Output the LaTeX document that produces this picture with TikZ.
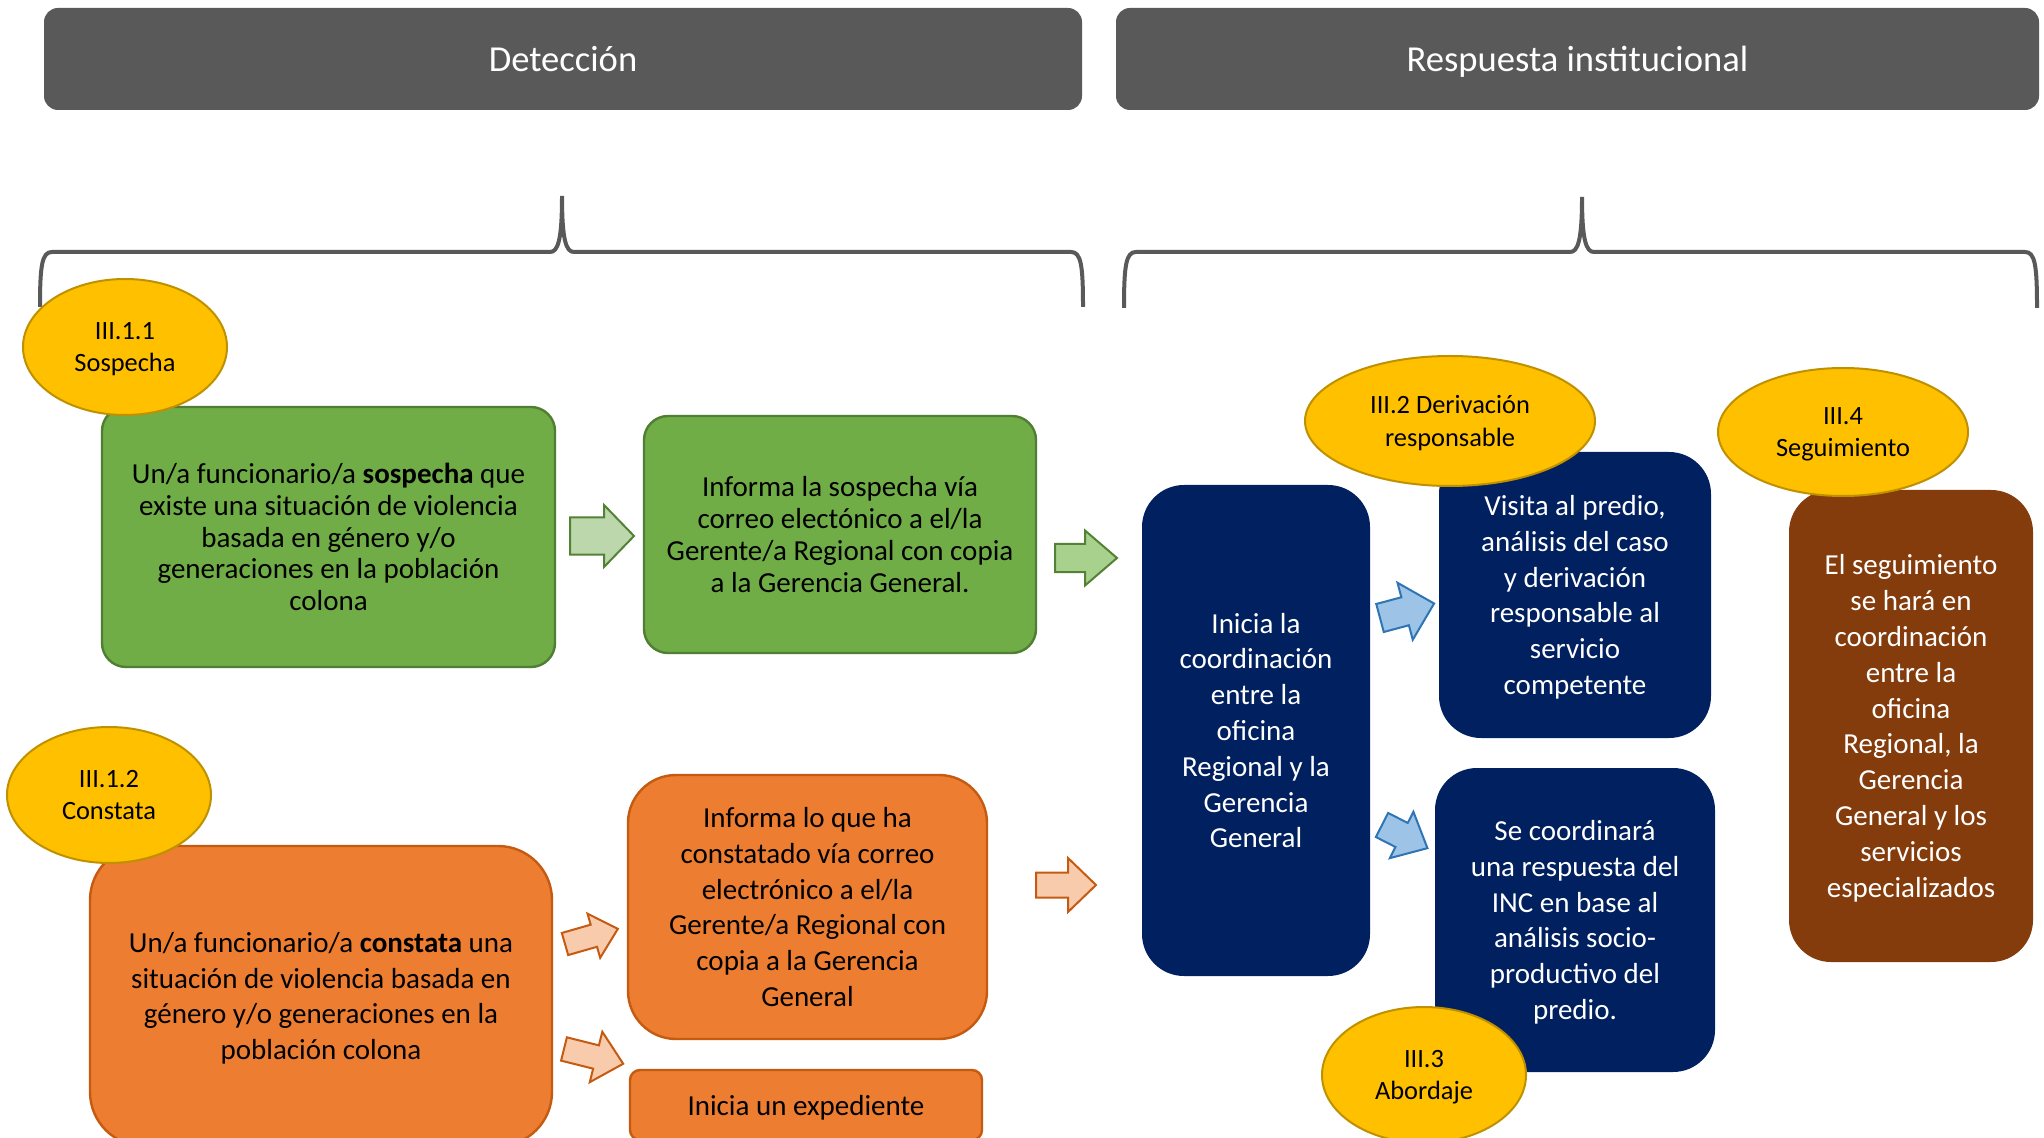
\documentclass[tikz,border=0pt]{standalone}
\usepackage{fontspec}
\setmainfont{Carlito}
\usetikzlibrary{shapes.geometric}
\definecolor{hdr}{HTML}{595959}
\definecolor{gfill}{HTML}{70AD47}
\definecolor{gdraw}{HTML}{507E32}
\definecolor{ofill}{HTML}{ED7D31}
\definecolor{odraw}{HTML}{C55A11}
\definecolor{navybox}{HTML}{002060}
\definecolor{brbx}{HTML}{843C0C}
\definecolor{yfill}{HTML}{FFC000}
\definecolor{ydraw}{HTML}{BF9000}
\definecolor{lga}{HTML}{BDD7AC}
\definecolor{mga}{HTML}{A9D18E}
\definecolor{gad}{HTML}{548235}
\definecolor{loa}{HTML}{F8CBAD}
\definecolor{lba}{HTML}{9DC3E6}
\definecolor{bad}{HTML}{2E75B6}
\newcommand{\blkarrow}[8]{%
  \draw[#8, shift={(#1,#2)}, rotate=#3] (0,-#6/2) -- (#4-#7,-#6/2) -- (#4-#7,-#5/2) -- (#4,0)
    -- (#4-#7,#5/2) -- (#4-#7,#6/2) -- (0,#6/2) -- cycle;}
\tikzset{
  hdrbox/.style={fill=hdr, rounded corners=7pt, text=white, text depth=0pt,
    font=\fontsize{18.3}{22}\selectfont},
  gbox/.style={fill=gfill, draw=gdraw, line width=1.2pt, rounded corners=12pt, align=center,
    text depth=0pt, font=\fontsize{14.5}{15.9}\selectfont},
  obox/.style={fill=ofill, draw=odraw, line width=1.2pt, align=center, text depth=0pt,
    font=\fontsize{14.5}{17.9}\selectfont},
  bbox/.style={fill=navybox, text=white, rounded corners=21pt, align=center, text depth=0pt,
    font=\fontsize{14.5}{17.9}\selectfont},
  brbox/.style={fill=brbx, text=white, rounded corners=21pt, align=center, text depth=0pt,
    font=\fontsize{14.5}{17.9}\selectfont},
  tag/.style={ellipse, fill=yfill, draw=ydraw, line width=1pt, align=center, inner sep=0pt,
    text depth=0pt, font=\fontsize{13.2}{16.3}\selectfont},
  bracestyle/.style={draw=hdr, line width=2pt},
  garrow1/.style={fill=lga, draw=gad, line width=1pt},
  garrow2/.style={fill=mga, draw=gad, line width=1pt},
  oarrow/.style={fill=loa, draw=odraw, line width=1pt},
  barrow/.style={fill=lba, draw=bad, line width=1pt},
}
\begin{document}
\begin{tikzpicture}[x=0.5pt,y=-0.5pt]
\useasboundingbox (0,0) rectangle (2044,1138);
\clip (0,0) rectangle (2044,1138);
\fill[white] (0,0) rectangle (2044,1138);

% headers
\node[hdrbox, minimum width=519pt, minimum height=51pt] (h1) at (563,59) {Detección};
\node[hdrbox, minimum width=461.5pt, minimum height=51pt] (h2) at (1577.5,59) {Respuesta institucional};

% braces
\draw[bracestyle] (40,307) .. controls (40,265) and (42,252) .. (52,252) -- (550,252)
  .. controls (558,252) and (562,240) .. (562,196) .. controls (562,240) and (566,252) .. (574,252)
  -- (1071,252) .. controls (1081,252) and (1083,265) .. (1083,307);
\draw[bracestyle] (1124,308) .. controls (1124,265) and (1126,252) .. (1136,252) -- (1570,252)
  .. controls (1578,252) and (1582,240) .. (1582,197) .. controls (1582,240) and (1586,252) .. (1594,252)
  -- (2025,252) .. controls (2035,252) and (2037,265) .. (2037,308);

% green row
\node[gbox, minimum width=226.5pt, minimum height=130pt] (g1) at (328.5,537)
 {Un/a funcionario/a \textbf{sospecha} que\\existe una situación de violencia\\basada en género y/o\\generaciones en la población\\colona};
\node[gbox, minimum width=196pt, minimum height=118.5pt] (g2) at (840,534.5)
 {Informa la sospecha vía\\correo electónico a el/la\\Gerente/a Regional con copia\\a la Gerencia General.};

% orange row
\node[obox, rounded corners=27pt, minimum width=231pt, minimum height=150pt] (o1) at (321,996)
 {Un/a funcionario/a \textbf{constata} una\\situación de violencia basada en\\género y/o generaciones en la\\población colona};
\node[obox, rounded corners=24pt, minimum width=179.5pt, minimum height=132pt] (o2) at (807.5,907)
 {Informa lo que ha\\constatado vía correo\\electrónico a el/la\\Gerente/a Regional con\\copia a la Gerencia\\General};
\node[obox, rounded corners=5pt, minimum width=176pt, minimum height=35pt] (o3) at (806,1105)
 {Inicia un expediente};

% blue / brown
\node[bbox, minimum width=114pt, minimum height=245.5pt] (b1) at (1256,730.5)
 {Inicia la\\coordinación\\entre la\\oficina\\Regional y la\\Gerencia\\General};
\node[bbox, minimum width=136pt, minimum height=143pt] (b2) at (1575,595)
 {Visita al predio,\\análisis del caso\\y derivación\\responsable al\\servicio\\competente};
\node[bbox, minimum width=140pt, minimum height=152pt] (b3) at (1575,920)
 {Se coordinará\\una respuesta del\\INC en base al\\análisis socio-\\productivo del\\predio.};
\node[brbox, minimum width=122pt, minimum height=236pt] (br) at (1911,726)
 {El seguimiento\\se hará en\\coordinación\\entre la\\oficina\\Regional, la\\Gerencia\\General y los\\servicios\\especializados};

% block arrows
\blkarrow{570}{536}{0}{64}{62}{37}{30}{garrow1}
\blkarrow{1055}{558}{0}{62}{55}{28}{32}{garrow2}
\blkarrow{565}{944}{16}{55}{46}{23}{25}{oarrow}
\blkarrow{564}{1049}{-14}{61}{52}{24}{28}{oarrow}
\blkarrow{1036}{885}{0}{60}{54}{25}{28}{oarrow}
\blkarrow{1380}{618}{15}{56}{59}{29}{30}{barrow}
\blkarrow{1382}{825}{-27}{51}{52}{27}{29}{barrow}

% tags
\node[tag, minimum width=102pt, minimum height=68pt] (t1) at (125,347) {III.1.1\\Sospecha};
\node[tag, minimum width=102pt, minimum height=68pt] (t2) at (109,795) {III.1.2\\Constata};
\node[tag, minimum width=145pt, minimum height=65pt] (t3) at (1450,421) {III.2 Derivación\\responsable};
\node[tag, minimum width=125pt, minimum height=64pt] (t4) at (1843,432) {III.4\\Seguimiento};
\node[tag, minimum width=102pt, minimum height=68pt] (t5) at (1424,1075) {III.3\\Abordaje};
\end{tikzpicture}
\end{document}
